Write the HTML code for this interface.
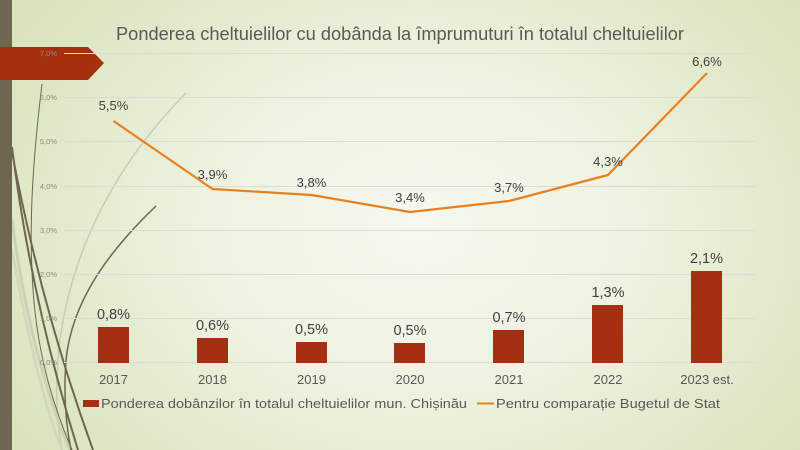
<!DOCTYPE html>
<html><head><meta charset="utf-8"><style>
html,body{margin:0;padding:0;width:800px;height:450px;overflow:hidden;}
svg{display:block;}
text{font-family:"Liberation Sans",sans-serif;}
</style></head><body>
<svg width="800" height="450" viewBox="0 0 800 450" xmlns="http://www.w3.org/2000/svg">
<defs>
<radialGradient id="bg" cx="420" cy="230" r="480" gradientUnits="userSpaceOnUse" gradientTransform="translate(420 230) scale(1 0.75) translate(-420 -230)">
<stop offset="0" stop-color="#f6f8ef"/>
<stop offset="0.45" stop-color="#eef2e0"/>
<stop offset="1" stop-color="#d9e3bc"/>
</radialGradient>
</defs>
<rect width="800" height="450" fill="url(#bg)"/>
<!-- decorative curves -->
<path d="M186,93 C115,165 72,250 60,340 C54,390 57,425 62,450" fill="none" stroke="#c9ccb2" stroke-width="1.5"/>
<path d="M12,220 C25,320 48,400 70,450" fill="none" stroke="#cdd1b5" stroke-width="3"/>
<path d="M12,250 C28,340 46,410 62,450" fill="none" stroke="#d3d6bd" stroke-width="2.5"/>
<path d="M42,84 C34,150 28,220 33,290 C38,360 55,410 72,450" fill="none" stroke="#6e6650" stroke-width="1"/>
<path d="M12,147 C26,260 50,360 78,450" fill="none" stroke="#6e6650" stroke-width="2"/>
<path d="M12,152 C34,270 64,370 93,450" fill="none" stroke="#6e6650" stroke-width="2"/>
<path d="M156,206 C110,250 72,300 66,360 C63,400 67,430 71,450" fill="none" stroke="#6e6650" stroke-width="1.5"/>
<!-- left strip -->
<rect x="0" y="0" width="12" height="450" fill="#6e6650"/>
<!-- red banner -->
<polygon points="0,47 88,47 104,63 88,80 0,80" fill="#a5300f"/>
<!-- gridlines -->
<g stroke="#dcdcd6" stroke-width="1">
<line x1="64" x2="756" y1="53.5" y2="53.5"/>
<line x1="64" x2="756" y1="97.5" y2="97.5"/>
<line x1="64" x2="756" y1="141.5" y2="141.5"/>
<line x1="64" x2="756" y1="186.5" y2="186.5"/>
<line x1="64" x2="756" y1="230.5" y2="230.5"/>
<line x1="64" x2="756" y1="274.5" y2="274.5"/>
<line x1="64" x2="756" y1="318.5" y2="318.5"/>
<line x1="64" x2="756" y1="362.5" y2="362.5"/>
</g>
<!-- y labels -->
<g font-size="7.5" fill="#8a8a8a" text-anchor="end">
<text x="57" y="56">7,0%</text>
<text x="57" y="100">6,0%</text>
<text x="57" y="144">5,0%</text>
<text x="57" y="189">4,0%</text>
<text x="57" y="233">3,0%</text>
<text x="57" y="277">2,0%</text>
<text x="57" y="321">1,0%</text>
<text x="57" y="365">0,0%</text>
</g>
<!-- bars -->
<g fill="#a52f12">
<rect x="98" y="327" width="31" height="36"/>
<rect x="197" y="338" width="31" height="25"/>
<rect x="296" y="342" width="31" height="21"/>
<rect x="394" y="343" width="31" height="20"/>
<rect x="493" y="330" width="31" height="33"/>
<rect x="592" y="305" width="31" height="58"/>
<rect x="691" y="271" width="31" height="92"/>
</g>
<!-- bar labels -->
<g font-size="14.5" fill="#404040" text-anchor="middle">
<text x="113.5" y="319">0,8%</text>
<text x="212.5" y="330">0,6%</text>
<text x="311.5" y="334">0,5%</text>
<text x="410" y="335">0,5%</text>
<text x="509" y="322">0,7%</text>
<text x="608" y="297">1,3%</text>
<text x="706.5" y="263">2,1%</text>
</g>
<!-- line -->
<polyline points="113.5,121 212.5,189 311.5,195 410,212 509,201 608,175 707,73" fill="none" stroke="#e8801e" stroke-width="2.2" stroke-linejoin="round"/>
<g font-size="13" fill="#404040" text-anchor="middle">
<text x="113.5" y="110">5,5%</text>
<text x="212.5" y="179">3,9%</text>
<text x="311.5" y="187">3,8%</text>
<text x="410" y="202">3,4%</text>
<text x="509" y="192">3,7%</text>
<text x="608" y="166">4,3%</text>
<text x="707" y="66">6,6%</text>
</g>
<!-- category labels -->
<g font-size="13" fill="#595959" text-anchor="middle">
<text x="113.5" y="384">2017</text>
<text x="212.5" y="384">2018</text>
<text x="311.5" y="384">2019</text>
<text x="410" y="384">2020</text>
<text x="509" y="384">2021</text>
<text x="608" y="384">2022</text>
<text x="707" y="384">2023 est.</text>
</g>
<!-- legend -->
<rect x="83" y="400" width="16" height="7" fill="#a52f12"/>
<text x="101" y="408" font-size="13" fill="#595959" textLength="366" lengthAdjust="spacingAndGlyphs">Ponderea dobânzilor în totalul cheltuielilor mun. Chișinău</text>
<line x1="477" x2="494" y1="403.5" y2="403.5" stroke="#e8801e" stroke-width="2"/>
<text x="496" y="408" font-size="13" fill="#595959" textLength="224" lengthAdjust="spacingAndGlyphs">Pentru comparație Bugetul de Stat</text>
<!-- title -->
<text x="116" y="40" font-size="18.5" fill="#595959" textLength="568" lengthAdjust="spacingAndGlyphs">Ponderea cheltuielilor cu dobânda la împrumuturi în totalul cheltuielilor</text>
</svg>
</body></html>
